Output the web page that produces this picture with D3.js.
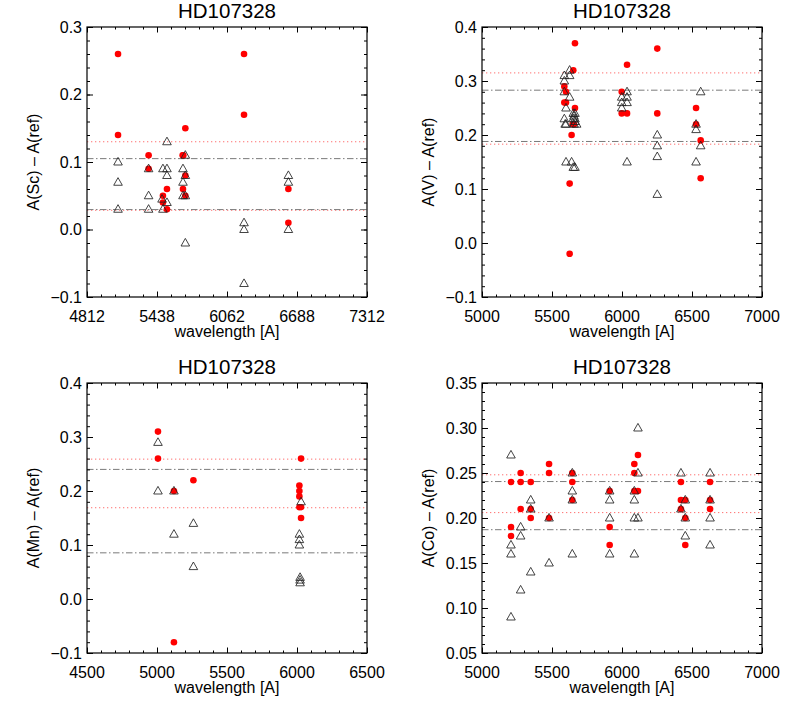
<!DOCTYPE html>
<html><head><meta charset="utf-8">
<script src="https://cdn.jsdelivr.net/npm/d3@7"></script>
<style>
body{margin:0;background:#fff;}
svg{display:block;font-family:"Liberation Sans",Arial,sans-serif;}
</style></head>
<body><svg id="c" width="786" height="709"></svg>
<script>
// ---------- DATA ----------
const title = "HD107328";
const xLabel = "wavelength [A]";

// Panel 1: Sc
const scYLabel = "A(Sc) – A(ref)";
const scXTicks = [4812, 5437, 6062, 6687, 7312];
const scXTickLabels = ["4812", "5438", "6062", "6688", "7312"];
const scYTicks = [-0.1, 0.0, 0.1, 0.2, 0.3];
const scRedX = [5089,5089,5362,5362,5490,5490,5526,5526,5666,5672,5669,5690,5690,5690,6214,6214,6610,6610];
const scRedY = [0.26,0.14,0.11,0.09,0.05,0.04,0.06,0.03,0.11,0.11,0.06,0.15,0.08,0.05,0.26,0.17,0.06,0.01];
const scTriX = [5089,5089,5089,5362,5362,5362,5490,5490,5482,5526,5526,5526,5526,5669,5669,5669,5690,5690,5690,5690,6214,6214,6214,6610,6610,6610];
const scTriY = [0.10,0.07,0.03,0.09,0.05,0.03,0.09,0.03,0.045,0.13,0.09,0.08,0.04,0.09,0.07,0.05,0.11,0.08,0.05,-0.02,0.01,0.0,-0.08,0.08,0.07,0.0];
const scRedLines = [0.130, 0.0285];
const scGrayLines = [0.105, 0.0295];

// Panel 2: V
const vYLabel = "A(V) – A(ref)";
const vXTicks = [5000, 5500, 6000, 6500, 7000];
const vXTickLabels = ["5000", "5500", "6000", "6500", "7000"];
const vYTicks = [-0.1, 0.0, 0.1, 0.2, 0.3, 0.4];
const vRedX = [5664,5652,5588,5600,5588,5600,5664,5648,5657,5640,5626,5626,6036,5998,5998,6036,6252,6252,6529,6529,6562,6562];
const vRedY = [0.37,0.32,0.29,0.28,0.26,0.26,0.25,0.22,0.22,0.20,0.11,-0.02,0.33,0.28,0.24,0.24,0.36,0.24,0.25,0.22,0.19,0.12];
const vTriX = [5626,5588,5626,5588,5588,5626,5600,5588,5600,5594,5652,5664,5657,5664,5652,5657,5676,5664,5600,5640,5652,5664,5998,5998,5998,6036,6036,6036,6036,6252,6252,6252,6252,6529,6529,6529,6562,6562];
const vTriY = [0.32,0.31,0.31,0.30,0.28,0.27,0.25,0.23,0.22,0.22,0.24,0.24,0.235,0.23,0.23,0.22,0.22,0.225,0.15,0.15,0.14,0.14,0.27,0.26,0.25,0.28,0.27,0.26,0.15,0.20,0.18,0.16,0.09,0.22,0.21,0.15,0.28,0.18];
const vRedLines = [0.315, 0.183];
const vGrayLines = [0.283, 0.188];

// Panel 3: Mn
const mnYLabel = "A(Mn) – A(ref)";
const mnXTicks = [4500, 5000, 5500, 6000, 6500];
const mnXTickLabels = ["4500", "5000", "5500", "6000", "6500"];
const mnYTicks = [-0.1, 0.0, 0.1, 0.2, 0.3, 0.4];
const mnRedX = [5007,5007,5121,5121,5260,6029,6017,6017,6017,6017,6029,6029];
const mnRedY = [0.31,0.26,0.20,-0.08,0.22,0.26,0.21,0.20,0.19,0.17,0.17,0.15];
const mnTriX = [5007,5007,5121,5121,5260,5260,6029,6017,6017,6017,6022,6022,6022];
const mnTriY = [0.29,0.20,0.20,0.12,0.14,0.06,0.18,0.12,0.11,0.10,0.04,0.035,0.03];
const mnRedLines = [0.259, 0.169];
const mnGrayLines = [0.240, 0.0855];

// Panel 4: Co
const coYLabel = "A(Co) – A(ref)";
const coXTicks = [5000, 5500, 6000, 6500, 7000];
const coXTickLabels = ["5000", "5500", "6000", "6500", "7000"];
const coYTicks = [0.05, 0.10, 0.15, 0.20, 0.25, 0.30, 0.35];
const coRedX = [5207,5207,5207,5276,5276,5276,5348,5348,5348,5479,5479,5479,5645,5645,5645,5912,5912,5912,6088,6088,6088,6114,6114,6421,6421,6452,6421,6452,6452,6629,6629,6629];
const coRedY = [0.24,0.19,0.18,0.25,0.24,0.21,0.24,0.21,0.20,0.26,0.25,0.20,0.25,0.24,0.22,0.23,0.19,0.17,0.26,0.25,0.23,0.27,0.23,0.24,0.22,0.22,0.21,0.20,0.17,0.24,0.22,0.21];
const coTriX = [5207,5207,5207,5207,5276,5276,5276,5348,5348,5348,5479,5479,5645,5645,5645,5645,5912,5912,5912,5912,6088,6088,6088,6088,6114,6114,6114,6421,6421,6452,6452,6452,6629,6629,6629,6629];
const coTriY = [0.27,0.17,0.16,0.09,0.19,0.18,0.12,0.22,0.21,0.14,0.20,0.15,0.25,0.23,0.22,0.16,0.23,0.22,0.20,0.16,0.23,0.22,0.20,0.16,0.30,0.25,0.20,0.25,0.21,0.22,0.20,0.18,0.25,0.22,0.20,0.17];
const coRedLines = [0.248, 0.206];
const coGrayLines = [0.2405, 0.187];

// ---------- DRAW ----------
const svg = d3.select("#c");
const W = 280, H = 270;

function panel(o) {
  const g = svg.append("g").attr("transform", `translate(${o.left},${o.top})`);
  const x = d3.scaleLinear().domain([o.xTicks[0], o.xTicks[o.xTicks.length-1]]).range([0, W]);
  const y = d3.scaleLinear().domain([o.yTicks[0], o.yTicks[o.yTicks.length-1]]).range([H, 0]);
  const clip = "clip" + o.id;
  g.append("clipPath").attr("id", clip).append("rect").attr("width", W).attr("height", H);
  const inner = g.append("g").attr("clip-path", `url(#${clip})`);

  // reference lines
  o.redLines.forEach(v => inner.append("line").attr("x1", 0).attr("x2", W)
    .attr("y1", y(v)).attr("y2", y(v)).attr("stroke", "#ff7070").attr("stroke-width", 1)
    .attr("stroke-dasharray", "1.3,2.7"));
  o.grayLines.forEach(v => inner.append("line").attr("x1", 0).attr("x2", W)
    .attr("y1", y(v)).attr("y2", y(v)).attr("stroke", "#7a7a7a").attr("stroke-width", 1)
    .attr("stroke-dasharray", "6.5,2.5,1.5,2.5"));

  // red circles
  inner.selectAll("circle.r").data(d3.zip(o.redX, o.redY)).join("circle")
    .attr("cx", d => x(d[0])).attr("cy", d => y(d[1])).attr("r", 3.3).attr("fill", "#ff0000");
  // open triangles
  const tri = "M0,-4.6L4.3,3L-4.3,3Z";
  inner.selectAll("path.t").data(d3.zip(o.triX, o.triY)).join("path")
    .attr("d", tri).attr("transform", d => `translate(${x(d[0])},${y(d[1])})`)
    .attr("fill", "none").attr("stroke", "#222").attr("stroke-width", 0.85);

  // axes: ticks inward on all four sides
  const xStep = (o.xTicks[1] - o.xTicks[0]);
  const yStep = (o.yTicks[1] - o.yTicks[0]);
  const xMinor = d3.range(0, (o.xTicks.length - 1) * 5 + 1).map(i => o.xTicks[0] + i * xStep / 5);
  const yMinor = d3.range(0, (o.yTicks.length - 1) * 5 + 1).map(i => o.yTicks[0] + i * yStep / 5);
  const mk = (axisFn, sc, vals, len) => axisFn(sc).tickValues(vals).tickSize(len).tickFormat("");
  const addAxis = (axis, tr) => {
    const a = g.append("g").attr("transform", tr).call(axis);
    a.select(".domain").remove();
    a.selectAll("line").attr("stroke", "#000").attr("stroke-width", 1);
    return a;
  };
  addAxis(mk(d3.axisTop, x, xMinor, 2.5), `translate(0,${H})`);
  addAxis(mk(d3.axisTop, x, o.xTicks, 5.5), `translate(0,${H})`);
  addAxis(mk(d3.axisBottom, x, xMinor, 2.5), `translate(0,0)`);
  addAxis(mk(d3.axisBottom, x, o.xTicks, 5.5), `translate(0,0)`);
  addAxis(mk(d3.axisRight, y, yMinor, 3), `translate(0,0)`);
  addAxis(mk(d3.axisRight, y, o.yTicks, 6), `translate(0,0)`);
  addAxis(mk(d3.axisLeft, y, yMinor, 3), `translate(${W},0)`);
  addAxis(mk(d3.axisLeft, y, o.yTicks, 6), `translate(${W},0)`);

  g.append("rect").attr("width", W).attr("height", H).attr("fill", "none")
    .attr("stroke", "#000").attr("stroke-width", 1.2);

  // tick labels
  g.selectAll("text.xl").data(o.xTicks).join("text")
    .attr("x", d => x(d)).attr("y", H + 24.5).attr("text-anchor", "middle")
    .attr("font-size", 16).attr("fill", "#000").text((d, i) => o.xTickLabels[i]);
  g.selectAll("text.yl").data(o.yTicks).join("text")
    .attr("x", -5).attr("y", d => y(d) + 5.5).attr("text-anchor", "end")
    .attr("font-size", 16).attr("fill", "#000").text(d => d3.format(o.yFmt)(d));

  // titles
  g.append("text").attr("x", W / 2).attr("y", -9).attr("text-anchor", "middle")
    .attr("font-size", 20.5).attr("fill", "#000").text(title);
  g.append("text").attr("x", W / 2).attr("y", H + 40).attr("text-anchor", "middle")
    .attr("font-size", 16).attr("fill", "#000").text(xLabel);
  g.append("text").attr("transform", `translate(-48.5,${H / 2}) rotate(-90)`)
    .attr("text-anchor", "middle").attr("font-size", 16).attr("fill", "#000").text(o.yLabel);
}

panel({id: 1, left: 87, top: 27, xTicks: scXTicks, xTickLabels: scXTickLabels, yTicks: scYTicks, yFmt: ".1f",
  redX: scRedX, redY: scRedY, triX: scTriX, triY: scTriY, redLines: scRedLines, grayLines: scGrayLines, yLabel: scYLabel});
panel({id: 2, left: 482, top: 27, xTicks: vXTicks, xTickLabels: vXTickLabels, yTicks: vYTicks, yFmt: ".1f",
  redX: vRedX, redY: vRedY, triX: vTriX, triY: vTriY, redLines: vRedLines, grayLines: vGrayLines, yLabel: vYLabel});
panel({id: 3, left: 87, top: 383, xTicks: mnXTicks, xTickLabels: mnXTickLabels, yTicks: mnYTicks, yFmt: ".1f",
  redX: mnRedX, redY: mnRedY, triX: mnTriX, triY: mnTriY, redLines: mnRedLines, grayLines: mnGrayLines, yLabel: mnYLabel});
panel({id: 4, left: 482, top: 383, xTicks: coXTicks, xTickLabels: coXTickLabels, yTicks: coYTicks, yFmt: ".2f",
  redX: coRedX, redY: coRedY, triX: coTriX, triY: coTriY, redLines: coRedLines, grayLines: coGrayLines, yLabel: coYLabel});
</script></body></html>
